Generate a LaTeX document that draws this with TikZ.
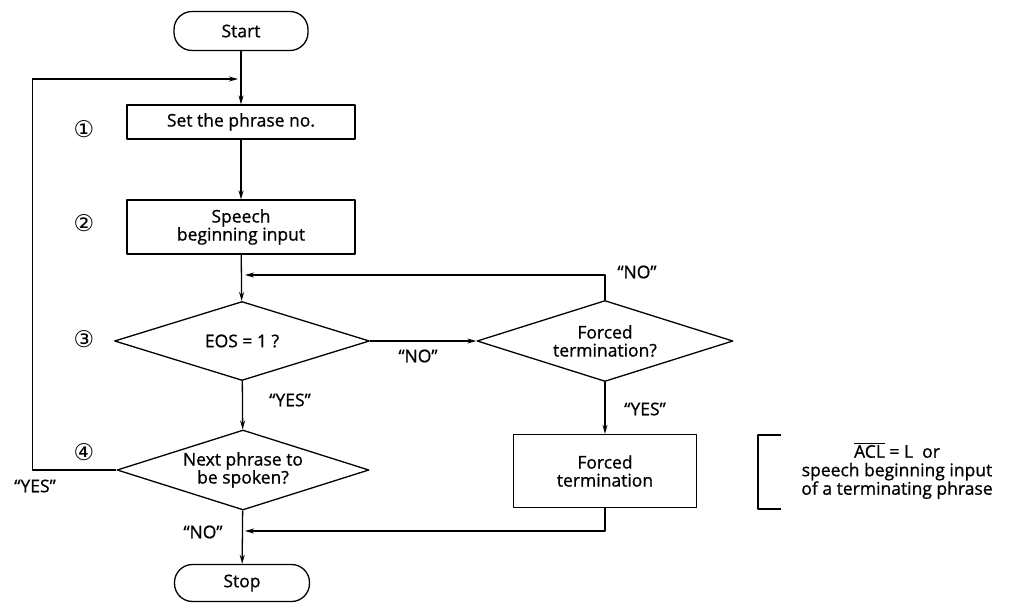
\documentclass[tikz,border=0pt]{standalone}
\usepackage{fontspec}
\setmainfont{Open Sans}[FakeBold=0.9]
\newfontfamily\circfont{DejaVu Sans}
\usetikzlibrary{shapes.geometric,arrows.meta,positioning}
\tikzset{
  procbox/.style={draw, rectangle, align=center, inner sep=2pt},
  termbox/.style={draw, rectangle, rounded corners=18pt, minimum width=134pt, minimum height=39pt},
  decide/.style={draw, diamond, shape aspect=3.16, align=center, inner sep=0pt},
  lbl/.style={inner sep=1pt},
  num/.style={font=\circfont\fontsize{23}{23}\selectfont}
}
\begin{document}
\begin{tikzpicture}[x=1pt, y=-1pt, >={Stealth[length=9pt,width=5pt]}, line width=1.3pt,
  font=\fontsize{17.5}{18}\selectfont, line join=round]
\useasboundingbox (0,0) rectangle (1015,604);
% nodes
\node[termbox] (start) at (241,31) {Start};
\node[procbox, minimum width=228pt, minimum height=34pt] (setno) at (241,122) {Set the phrase no.};
\node[procbox, minimum width=228pt, minimum height=54pt] (speech) at (241,227) {Speech\\beginning input};
\node[decide, minimum width=255pt, minimum height=79pt] (eos) at (242,341) {EOS = 1 ?};
\node[decide, minimum width=252pt, minimum height=80pt] (next) at (243,470) {Next phrase to\\be spoken?};
\node[decide, minimum width=256pt, minimum height=81pt] (fq) at (605,341) {Forced\\termination?};
\node[procbox, minimum width=183pt, minimum height=73pt] (fbox) at (605,471) {Forced\\termination};
\node[termbox, minimum width=135pt, minimum height=37pt] (stop) at (242,583) {Stop};
% junctions on the main line
\coordinate (jtop) at (238,79);
\coordinate (jmid) at (245,275);
\coordinate (jbot) at (245,531);
% connectors
\draw[->] (start) -- (setno);
\draw[->] (setno) -- (speech);
\draw[->] (speech) -- (eos);
\draw[->] (eos) -- (next);
\draw[->] (next) -- (stop);
\draw[->] (eos) -- (fq);
\draw[->] (fq) -- (fbox);
\draw[->] (fq.north) |- (jmid);
\draw[->] (fbox.south) |- (jbot);
\draw[->] (next.west) -- ++(-84,0) |- (jtop);
% labels
\node[lbl] (noa) at (418,356) {“NO”};
\node[lbl] (yesa) at (290,400) {“YES”};
\node[lbl] (nob) at (637,272) {“NO”};
\node[lbl] (yesb) at (645,409) {“YES”};
\node[lbl] (yesc) at (35,486) {“YES”};
\node[lbl] (noc) at (203,532) {“NO”};
\node[num] (n1) at (84,129) {①};
\node[num] (n2) at (84,223) {②};
\node[num] (n3) at (84,339) {③};
\node[num] (n4) at (84,452) {④};
% remark
\draw[line width=2.2pt] (781,435) -- (758,435) -- (758,509) -- (781,509);
\node[align=center, inner sep=0pt, font=\fontsize{17.5}{18.5}\selectfont] (note) at (897,471)
  {$\overline{\mbox{ACL}}$ = L\ \ or\\speech beginning input\\of a terminating phrase};
\end{tikzpicture}
\end{document}
